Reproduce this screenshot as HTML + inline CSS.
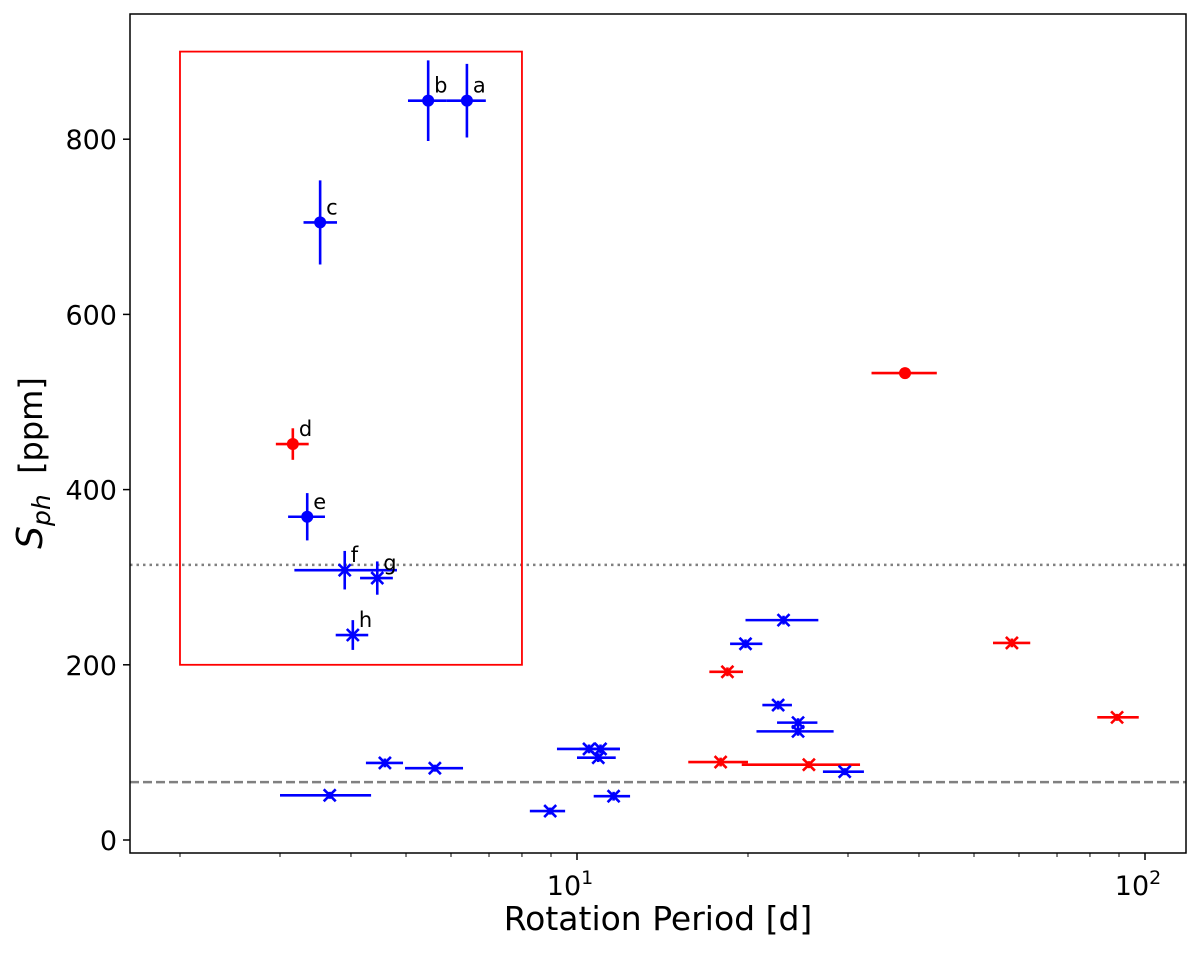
<!DOCTYPE html>
<html><head><meta charset="utf-8"><style>
body{margin:0;background:#fff}
svg text{font-family:"DejaVu Sans","Liberation Sans",sans-serif}
</style></head><body>
<svg id="chart" width="1200" height="950" xmlns="http://www.w3.org/2000/svg">
<rect width="1200" height="950" fill="#fff"/>
<g id="plot"></g>
</svg>
<script>
// data arrays
const period  = [6.4,5.47,3.53,3.35,3.16,37.8,3.90,4.45,4.03,3.67,4.59,5.62,23.1,19.8,18.4,22.6,24.5,24.5,10.5,11.0,10.9,17.9,25.6,29.6,11.6,8.97,58.3,89.3];
const periodLo= [5.9,5.04,3.30,3.10,2.95,33.0,3.18,4.15,3.76,3.00,4.25,4.98,19.8,18.6,17.1,21.2,22.5,20.7,9.22,10.1,10.0,15.7,19.5,27.1,10.7,8.26,54.0,82.4];
const periodHi= [6.91,5.90,3.78,3.60,3.37,43.0,4.82,4.74,4.29,4.34,4.94,6.30,26.6,21.2,19.6,23.9,26.5,28.3,11.9,11.9,11.7,20.0,31.5,32.0,12.4,9.53,62.8,97.5];
const sph     = [844,844,705,369,452,533,308,299,234,51,88,82,251,224,192,154,134,124,104,104,94,89,86,78,50,33,225,140];
const sphErr  = [42,46,48,27,18,0,22,19,17,4,5,4,5,5,5,5,5,5,5,5,5,5,4,4,5,4,5,4];
const colors  = ["b","b","b","b","r","r","b","b","b","b","b","b","b","b","r","b","b","b","b","b","b","r","r","b","b","b","r","r"];
const markers = ["o","o","o","o","o","o","x","x","x","x","x","x","x","x","x","x","x","x","x","x","x","x","x","x","x","x","x","x"];
const labels  = ["a","b","c","e","d","","f","g","h","","","","","","","","","","","","","","","","","","",""];
const yTicks = [0,200,400,600,800];
const xTicks = [10,100];
const xTickLabels = ["1","2"];
const minorTicks = [2,3,4,5,6,7,8,9,20,30,40,50,60,70,80,90];
const hLines = [314,66];
const boxP = [2,8]; const boxS=[200,900];

const L=130,R=1186,T=14,B=853;
const X=p=>577+568*Math.log10(p/10);
const Y=v=>840-v*0.876;
const NS="http://www.w3.org/2000/svg";
const g=document.getElementById('plot');
function mk(t,a,parent){const e=document.createElementNS(NS,t);for(const k in a)e.setAttribute(k,a[k]);(parent||g).appendChild(e);return e;}
const col={b:"#0000ff",r:"#ff0000"};

let e=mk('line',{x1:L,x2:R,y1:Y(hLines[0]),y2:Y(hLines[0]),stroke:"#808080","stroke-width":2.5,"stroke-dasharray":"2.5,4"});


e=mk('line',{x1:L,x2:R,y1:Y(hLines[1]),y2:Y(hLines[1]),stroke:"#808080","stroke-width":2.5,"stroke-dasharray":"9,4"});


e=mk('rect',{x:X(boxP[0]),y:Y(boxS[1]),width:X(boxP[1])-X(boxP[0]),height:Y(boxS[0])-Y(boxS[1]),fill:"none",stroke:"#ff0000","stroke-width":1.8});



period.forEach((p,i)=>{
  const c=col[colors[i]],x=X(p),y=Y(sph[i]);
  const pg=mk('g',{});
  
  
  mk('line',{x1:X(periodLo[i]),x2:X(periodHi[i]),y1:y,y2:y,stroke:c,"stroke-width":2.6},pg);
  if(sphErr[i]>0)mk('line',{x1:x,x2:x,y1:Y(sph[i]-sphErr[i]),y2:Y(sph[i]+sphErr[i]),stroke:c,"stroke-width":2.6},pg);
  if(markers[i]==="o")mk('circle',{cx:x,cy:y,r:6,fill:c},pg);
  else{const s=6;mk('path',{d:`M${x-s},${y-s}L${x+s},${y+s}M${x-s},${y+s}L${x+s},${y-s}`,stroke:c,"stroke-width":2.6},pg);}
  if(labels[i]){const t=mk('text',{x:x+6,y:y-8,"font-size":21,fill:"#000"});t.textContent=labels[i];
    
    }
});

e=mk('rect',{x:L,y:T,width:R-L,height:B-T,fill:"none",stroke:"#000","stroke-width":1.5});


yTicks.forEach(v=>{
  mk('line',{x1:L-7,x2:L,y1:Y(v),y2:Y(v),stroke:"#000","stroke-width":1.5});
  const t=mk('text',{x:L-13,y:Y(v)+10,"font-size":27,"text-anchor":"end"});t.textContent=v;
  
  
});
xTicks.forEach((p,i)=>{
  mk('line',{x1:X(p),x2:X(p),y1:B,y2:B+7,stroke:"#000","stroke-width":1.5});
  const t=mk('text',{x:X(p)-7,y:B+42,"font-size":27,"text-anchor":"middle"});
  t.textContent="10";
  const s=mk('tspan',{dy:-11,"font-size":19},t);s.textContent=xTickLabels[i];
  
  
});
minorTicks.forEach(p=>{const x=X(p);if(x>L&&x<R)mk('line',{x1:x,x2:x,y1:B,y2:B+4,stroke:"#000","stroke-width":1});});
let t=mk('text',{x:658,y:930,"font-size":33,"text-anchor":"middle"});t.textContent="Rotation Period [d]";


t=mk('text',{transform:"translate(42,463) rotate(-90)","font-size":32,"text-anchor":"middle"});
const s1=mk('tspan',{"font-style":"italic","font-size":36},t);s1.textContent="S";
const s2=mk('tspan',{"font-style":"italic","font-size":25,dy:8},t);s2.textContent="ph";
const s3=mk('tspan',{dy:-8},t);s3.textContent="\u00a0\u00a0[ppm]";


</script>
</body></html>
